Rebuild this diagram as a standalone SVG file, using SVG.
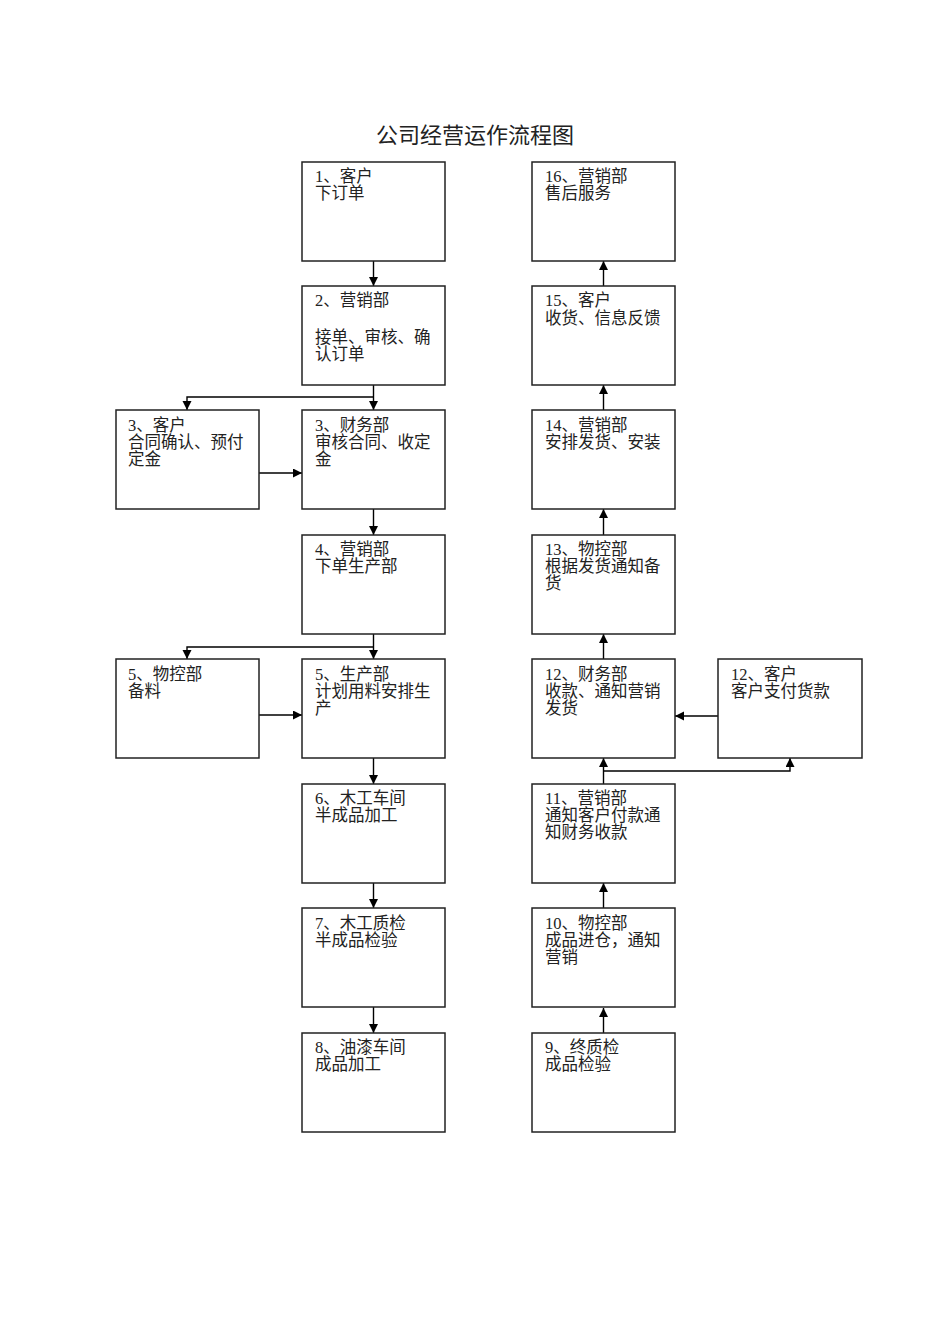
<svg xmlns="http://www.w3.org/2000/svg" width="950" height="1344" viewBox="0 0 950 1344">
<style>
  .box { fill: #ffffff; stroke: #222222; stroke-width: 1.5; }
  .t { font-family: "Liberation Serif", "Noto Sans CJK SC", serif; font-size: 16.5px; fill: #222222; }
  .title { font-family: "Liberation Serif", "Noto Sans CJK SC", serif; font-size: 22px; fill: #222222; }
  .c { fill: none; stroke: #000000; stroke-width: 1.4; }
</style>
<defs>
  <marker id="arr" markerWidth="10" markerHeight="10" refX="9" refY="4.5" orient="auto" markerUnits="userSpaceOnUse">
    <path d="M0,0 L9,4.5 L0,9 Z" fill="#000000"/>
  </marker>
</defs>
<rect x="0" y="0" width="950" height="1344" fill="#ffffff"/>
<text class="title" x="475" y="143" text-anchor="middle">公司经营运作流程图</text>

<g id="connectors">
  <path class="c" d="M373.5,261 V286" marker-end="url(#arr)"/>
  <path class="c" d="M373.5,385 V410" marker-end="url(#arr)"/>
  <path class="c" d="M373.5,397 H187 V410" marker-end="url(#arr)"/>
  <path class="c" d="M259,473 H302" marker-end="url(#arr)"/>
  <path class="c" d="M373.5,509 V535" marker-end="url(#arr)"/>
  <path class="c" d="M373.5,634 V659" marker-end="url(#arr)"/>
  <path class="c" d="M373.5,647 H187 V659" marker-end="url(#arr)"/>
  <path class="c" d="M259,715 H302" marker-end="url(#arr)"/>
  <path class="c" d="M373.5,758 V784" marker-end="url(#arr)"/>
  <path class="c" d="M373.5,883 V908" marker-end="url(#arr)"/>
  <path class="c" d="M373.5,1007 V1033" marker-end="url(#arr)"/>
  <path class="c" d="M603.5,1033 V1008" marker-end="url(#arr)"/>
  <path class="c" d="M603.5,908 V883" marker-end="url(#arr)"/>
  <path class="c" d="M603.5,784 V758" marker-end="url(#arr)"/>
  <path class="c" d="M603.5,771 H790 V758" marker-end="url(#arr)"/>
  <path class="c" d="M718,716 H675" marker-end="url(#arr)"/>
  <path class="c" d="M603.5,659 V634" marker-end="url(#arr)"/>
  <path class="c" d="M603.5,535 V509" marker-end="url(#arr)"/>
  <path class="c" d="M603.5,410 V385" marker-end="url(#arr)"/>
  <path class="c" d="M603.5,286 V261" marker-end="url(#arr)"/>
</g>

<g id="n1">
  <rect class="box" x="302" y="162" width="143" height="99"/>
  <text class="t" x="315" y="182">1、客户</text>
  <text class="t" x="315" y="199">下订单</text>
</g>
<g id="n2">
  <rect class="box" x="302" y="286" width="143" height="99"/>
  <text class="t" x="315" y="306">2、营销部</text>
  <text class="t" x="315" y="343">接单、审核、确</text>
  <text class="t" x="315" y="360">认订单</text>
</g>
<g id="n3a">
  <rect class="box" x="116" y="410" width="143" height="99"/>
  <text class="t" x="128" y="431">3、客户</text>
  <text class="t" x="128" y="448">合同确认、预付</text>
  <text class="t" x="128" y="465">定金</text>
</g>
<g id="n3b">
  <rect class="box" x="302" y="410" width="143" height="99"/>
  <text class="t" x="315" y="431">3、财务部</text>
  <text class="t" x="315" y="448">审核合同、收定</text>
  <text class="t" x="315" y="465">金</text>
</g>
<g id="n4">
  <rect class="box" x="302" y="535" width="143" height="99"/>
  <text class="t" x="315" y="555">4、营销部</text>
  <text class="t" x="315" y="572">下单生产部</text>
</g>
<g id="n5a">
  <rect class="box" x="116" y="659" width="143" height="99"/>
  <text class="t" x="128" y="680">5、物控部</text>
  <text class="t" x="128" y="697">备料</text>
</g>
<g id="n5b">
  <rect class="box" x="302" y="659" width="143" height="99"/>
  <text class="t" x="315" y="680">5、生产部</text>
  <text class="t" x="315" y="697">计划用料安排生</text>
  <text class="t" x="315" y="714">产</text>
</g>
<g id="n6">
  <rect class="box" x="302" y="784" width="143" height="99"/>
  <text class="t" x="315" y="804">6、木工车间</text>
  <text class="t" x="315" y="821">半成品加工</text>
</g>
<g id="n7">
  <rect class="box" x="302" y="908" width="143" height="99"/>
  <text class="t" x="315" y="929">7、木工质检</text>
  <text class="t" x="315" y="946">半成品检验</text>
</g>
<g id="n8">
  <rect class="box" x="302" y="1033" width="143" height="99"/>
  <text class="t" x="315" y="1053">8、油漆车间</text>
  <text class="t" x="315" y="1070">成品加工</text>
</g>

<g id="n16">
  <rect class="box" x="532" y="162" width="143" height="99"/>
  <text class="t" x="545" y="182">16、营销部</text>
  <text class="t" x="545" y="199">售后服务</text>
</g>
<g id="n15">
  <rect class="box" x="532" y="286" width="143" height="99"/>
  <text class="t" x="545" y="306">15、客户</text>
  <text class="t" x="545" y="324">收货、信息反馈</text>
</g>
<g id="n14">
  <rect class="box" x="532" y="410" width="143" height="99"/>
  <text class="t" x="545" y="431">14、营销部</text>
  <text class="t" x="545" y="448">安排发货、安装</text>
</g>
<g id="n13">
  <rect class="box" x="532" y="535" width="143" height="99"/>
  <text class="t" x="545" y="555">13、物控部</text>
  <text class="t" x="545" y="572">根据发货通知备</text>
  <text class="t" x="545" y="589">货</text>
</g>
<g id="n12a">
  <rect class="box" x="532" y="659" width="143" height="99"/>
  <text class="t" x="545" y="680">12、财务部</text>
  <text class="t" x="545" y="697">收款、通知营销</text>
  <text class="t" x="545" y="714">发货</text>
</g>
<g id="n12b">
  <rect class="box" x="718" y="659" width="144" height="99"/>
  <text class="t" x="731" y="680">12、客户</text>
  <text class="t" x="731" y="697">客户支付货款</text>
</g>
<g id="n11">
  <rect class="box" x="532" y="784" width="143" height="99"/>
  <text class="t" x="545" y="804">11、营销部</text>
  <text class="t" x="545" y="821">通知客户付款通</text>
  <text class="t" x="545" y="838">知财务收款</text>
</g>
<g id="n10">
  <rect class="box" x="532" y="908" width="143" height="99"/>
  <text class="t" x="545" y="929">10、物控部</text>
  <text class="t" x="545" y="946">成品进仓，通知</text>
  <text class="t" x="545" y="963">营销</text>
</g>
<g id="n9">
  <rect class="box" x="532" y="1033" width="143" height="99"/>
  <text class="t" x="545" y="1053">9、终质检</text>
  <text class="t" x="545" y="1070">成品检验</text>
</g>
</svg>
